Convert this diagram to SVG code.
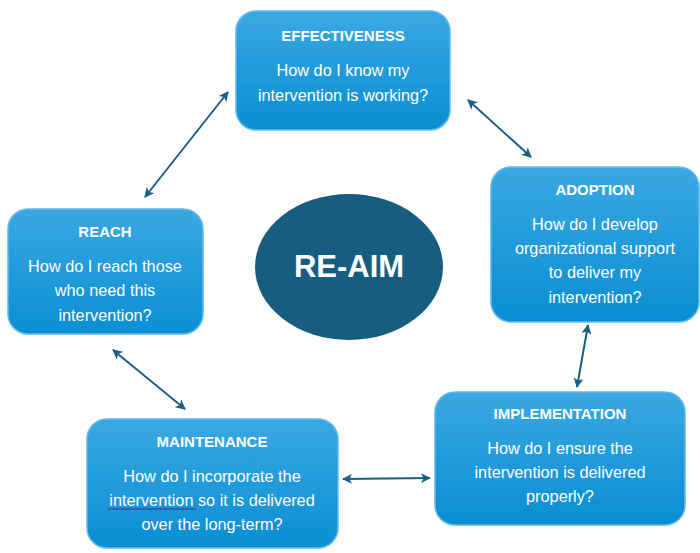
<svg xmlns="http://www.w3.org/2000/svg" width="700" height="553" viewBox="0 0 700 553">
<defs>
<linearGradient id="bg" x1="0" y1="0" x2="0" y2="1">
<stop offset="0" stop-color="#3aa8e2"/>
<stop offset="1" stop-color="#0a8ed3"/>
</linearGradient>
<marker id="ah" viewBox="0 0 10 10" refX="9" refY="5" markerWidth="5" markerHeight="5" orient="auto-start-reverse" markerUnits="strokeWidth">
<path d="M0,0 L10,5 L0,10 L2.5,5 Z" fill="#1b5e86"/>
</marker>
<style>
.box{fill:url(#bg);stroke:#62b9ea;stroke-width:1.5}
.t{font-family:"Liberation Sans",Arial,sans-serif;fill:#fff;text-anchor:middle}
.h{font-size:15px;font-weight:bold}
.b{font-size:16.3px}
.c{stroke:#1b5e86;stroke-width:2;fill:none;marker-start:url(#ah);marker-end:url(#ah)}
</style>
</defs>
<rect width="700" height="553" fill="#fff"/>
<g id="effectiveness">
<rect class="box" x="236" y="11" width="214" height="119" rx="20"/>
<text class="t h" x="343" y="41">EFFECTIVENESS</text>
<text class="t b" x="343" y="76">How do I know my</text>
<text class="t b" x="343" y="101">intervention is working?</text>
</g>
<g id="reach">
<rect class="box" x="8" y="209" width="195" height="125" rx="20"/>
<text class="t h" x="105" y="237">REACH</text>
<text class="t b" x="105" y="272">How do I reach those</text>
<text class="t b" x="105" y="296">who need this</text>
<text class="t b" x="105" y="321">intervention?</text>
</g>
<g id="adoption">
<rect class="box" x="491" y="167" width="208" height="155" rx="20"/>
<text class="t h" x="595" y="195">ADOPTION</text>
<text class="t b" x="595" y="230">How do I develop</text>
<text class="t b" x="595" y="254">organizational support</text>
<text class="t b" x="595" y="278">to deliver my</text>
<text class="t b" x="595" y="303">intervention?</text>
</g>
<g id="implementation">
<rect class="box" x="435" y="392" width="250" height="133" rx="20"/>
<text class="t h" x="560" y="419">IMPLEMENTATION</text>
<text class="t b" x="560" y="454">How do I ensure the</text>
<text class="t b" x="560" y="478">intervention is delivered</text>
<text class="t b" x="560" y="502">properly?</text>
</g>
<g id="maintenance">
<rect class="box" x="87" y="419" width="251" height="129" rx="20"/>
<text class="t h" x="212" y="447">MAINTENANCE</text>
<text class="t b" x="212" y="482">How do I incorporate the</text>
<text class="t b" x="212" y="506">intervention so it is delivered</text>
<text class="t b" x="212" y="530">over the long-term?</text>
<line x1="108" y1="509" x2="196" y2="509" stroke="#2b55a8" stroke-width="1.3"/>
</g>
<g id="re-aim">
<ellipse cx="349" cy="267" rx="94" ry="73" fill="#175d80"/>
<text x="349" y="277" font-family="'Liberation Sans',Arial,sans-serif" font-size="31" font-weight="bold" fill="#fff" text-anchor="middle">RE-AIM</text>
</g>
<g id="connectors">
<line class="c" x1="228" y1="92" x2="145" y2="197"/>
<line class="c" x1="468" y1="100" x2="531" y2="157"/>
<line class="c" x1="588" y1="325" x2="577" y2="387"/>
<line class="c" x1="430" y1="478" x2="343" y2="479"/>
<line class="c" x1="113" y1="350" x2="185" y2="409"/>
</g>
</svg>
